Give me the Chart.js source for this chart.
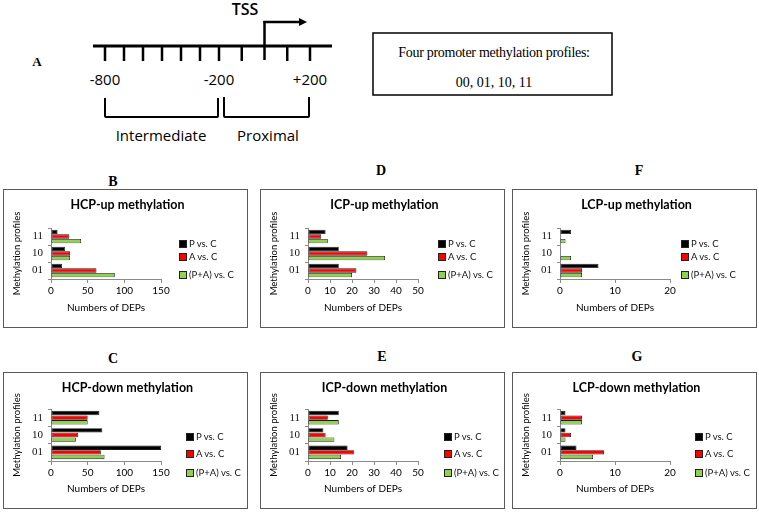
<!DOCTYPE html>
<html>
<head>
<meta charset="utf-8">
<script src="https://cdn.jsdelivr.net/npm/chart.js@4"></script>
<style>
  body { margin: 0; background: #fff; }
  #fig { position: relative; width: 759px; height: 512px; overflow: hidden; }
  .box { position: absolute; width: 245px; border: 1.3px solid #5a5a5a; box-sizing: border-box; }
  .box canvas { position: absolute; left: -1px; top: -1px; }
  .letter { position: absolute; font: bold 14px "Liberation Serif", serif; transform: translateX(-50%); }
  .legend { position: absolute; font: 9.5px Lato, sans-serif; color: #111; }
  .legend .row { position: absolute; white-space: nowrap; line-height: 12px; transform: translateY(-50%); }
  .legend .sw { display: inline-block; width: 6px; height: 6px; border: 1px solid #222; margin-right: 2px; vertical-align: -0.5px; }
  #diagram { position: absolute; left: 0; top: 0; }
</style>
</head>
<body>
<div id="fig">
  <svg id="diagram" width="759" height="170"></svg>

  <div class="letter" style="left:113px; top:174px;">B</div>
  <div class="letter" style="left:381px; top:163px;">D</div>
  <div class="letter" style="left:639px; top:163px;">F</div>
  <div class="letter" style="left:113px; top:351px;">C</div>
  <div class="letter" style="left:382px; top:349px;">E</div>
  <div class="letter" style="left:637px; top:349px;">G</div>

  <div class="box" style="left:3px; top:189px; height:139px;"><canvas id="hcpUp" width="245" height="139"></canvas><div class="legend" id="lgHcpUp" style="left:175px; top:0;"></div></div>
  <div class="box" style="left:260px; top:189px; height:139px;"><canvas id="icpUp" width="245" height="139"></canvas><div class="legend" id="lgIcpUp" style="left:177px; top:0;"></div></div>
  <div class="box" style="left:512px; top:189px; height:139px;"><canvas id="lcpUp" width="245" height="139"></canvas><div class="legend" id="lgLcpUp" style="left:168px; top:0;"></div></div>
  <div class="box" style="left:3px; top:372px; height:137px;"><canvas id="hcpDown" width="245" height="137"></canvas><div class="legend" id="lgHcpDown" style="left:182px; top:0;"></div></div>
  <div class="box" style="left:260px; top:372px; height:137px;"><canvas id="icpDown" width="245" height="137"></canvas><div class="legend" id="lgIcpDown" style="left:183px; top:0;"></div></div>
  <div class="box" style="left:512px; top:372px; height:137px;"><canvas id="lcpDown" width="245" height="137"></canvas><div class="legend" id="lgLcpDown" style="left:182px; top:0;"></div></div>
</div>

<script>
// methylation profile categories, top to bottom
const profiles = ["11", "10", "01"];
const seriesNames = ["P vs. C", "A vs. C", "(P+A) vs. C"];
const seriesColors = ["#000000", "#ff0000", "#92d050"];

// numbers of DEPs per profile (11, 10, 01)
const hcpUpP = [9, 19, 15];
const hcpUpA = [25, 26, 62];
const hcpUpPA = [41, 26, 87];

const icpUpP = [8, 14, 14];
const icpUpA = [6, 27, 22];
const icpUpPA = [9, 35, 20];

const lcpUpP = [2, 0, 7];
const lcpUpA = [0, 0, 4];
const lcpUpPA = [1, 2, 4];

const hcpDownP = [66, 70, 150];
const hcpDownA = [50, 37, 68];
const hcpDownPA = [50, 34, 73];

const icpDownP = [14, 7, 18];
const icpDownA = [9, 8, 21];
const icpDownPA = [14, 12, 15];

const lcpDownP = [1, 1, 3];
const lcpDownA = [4, 2, 8];
const lcpDownPA = [4, 1, 6];

// promoter schematic: bp positions of the ticks
const tickPositions = [-800, -700, -600, -500, -400, -300, -200, -100, 100, 200];
const tickLabels = ["-800", "-200", "+200"];

function bpToX(bp) {
  // intermediate region is drawn a little tighter than the proximal one
  if (bp <= -200) return 105 + (bp + 800) * 0.19;
  return 219 + (bp + 200) * 0.2275;
}

function drawDiagram() {
  const svg = document.getElementById("diagram");
  let s = "";
  s += `<line x1="93" y1="46" x2="332" y2="46" stroke="#000" stroke-width="3"/>`;
  tickPositions.forEach(bp => {
    const x = bpToX(bp);
    s += `<line x1="${x}" y1="46" x2="${x}" y2="61" stroke="#000" stroke-width="2.5"/>`;
  });
  const tss = bpToX(0);
  s += `<line x1="${tss}" y1="60" x2="${tss}" y2="21" stroke="#000" stroke-width="2.5"/>`;
  s += `<line x1="${tss - 1}" y1="22" x2="300" y2="22" stroke="#000" stroke-width="2.5"/>`;
  s += `<path d="M299 18 L307 22 L299 26 Z" fill="#000"/>`;
  s += `<text x="245" y="15" text-anchor="middle" font-family="Open Sans" font-weight="600" font-size="16">TSS</text>`;
  [-800, -200, 200].forEach((bp, i) => {
    s += `<text x="${bpToX(bp)}" y="85" text-anchor="middle" font-family="Open Sans" font-size="15">${tickLabels[i]}</text>`;
  });
  s += `<path d="M105 98 V116 Q105 117 106 117 H217 Q218 117 218 116 V98" fill="none" stroke="#000" stroke-width="2"/>`;
  s += `<path d="M224 97 V116 Q224 117 225 117 H308 Q309 117 309 116 V97" fill="none" stroke="#000" stroke-width="2"/>`;
  s += `<text x="161" y="141" text-anchor="middle" font-family="Open Sans" font-size="15">Intermediate</text>`;
  s += `<text x="268" y="141" text-anchor="middle" font-family="Open Sans" font-size="15">Proximal</text>`;
  s += `<text x="37" y="66" text-anchor="middle" font-family="Liberation Serif" font-weight="bold" font-size="13">A</text>`;
  s += `<rect x="373" y="33" width="239" height="62" fill="none" stroke="#000" stroke-width="1.5"/>`;
  s += `<text x="494" y="57" text-anchor="middle" font-family="Liberation Serif" font-size="14" letter-spacing="-0.3">Four promoter methylation profiles:</text>`;
  s += `<text x="494" y="87" text-anchor="middle" font-family="Liberation Serif" font-size="14">00, 01, 10, 11</text>`;
  svg.innerHTML = s;
}

function buildLegend(id, rowCenters) {
  const el = document.getElementById(id);
  el.innerHTML = seriesNames.map((name, i) =>
    `<div class="row" style="top:${rowCenters[i]}px"><span class="sw" style="background:${seriesColors[i]}"></span>${name}</div>`
  ).join("");
}

function makePanel(canvasId, title, pVals, aVals, paVals, xMax, xStep, h) {
  const plotTop = h > 138 ? 39 : 37;
  const plotBottom = h > 138 ? 90 : 89;
  const plotRight = 158;
  const axisColor = "#8a8a8a";
  const tickFont = { family: "Lato", size: 10 };

  return new Chart(document.getElementById(canvasId), {
    type: "bar",
    data: {
      labels: profiles,
      datasets: [pVals, aVals, paVals].map((vals, i) => ({
        label: seriesNames[i],
        data: vals,
        backgroundColor: seriesColors[i],
        borderColor: "#1a1a1a",
        borderWidth: c => (c.raw === 0 ? 0 : 0.8),
        borderSkipped: false,
        barPercentage: 0.95,
        categoryPercentage: 0.8
      }))
    },
    options: {
      indexAxis: "y",
      responsive: false,
      animation: false,
      devicePixelRatio: 1,
      layout: { padding: { left: 4, right: 0, top: 0, bottom: 0 } },
      plugins: {
        legend: { display: false },
        tooltip: { enabled: false },
        title: {
          display: true,
          text: title,
          color: "#000",
          font: { family: "Lato", size: 12.5, weight: "bold" },
          padding: { top: 8.5, bottom: plotTop - 8.5 - 15 }
        }
      },
      scales: {
        x: {
          min: 0,
          max: xMax,
          ticks: { stepSize: xStep, color: "#000", font: tickFont, padding: 2 },
          grid: { drawOnChartArea: false, tickLength: 4, color: axisColor },
          border: { color: axisColor, width: 1 },
          title: {
            display: true,
            text: "Numbers of DEPs",
            color: "#000",
            font: tickFont,
            padding: { top: 0, bottom: 14.5 }
          },
          afterFit: scale => { scale.height = h - plotBottom; }
        },
        y: {
          ticks: { color: "#111", font: { family: "Liberation Serif", size: 11 }, padding: 5 },
          grid: { drawOnChartArea: false, tickLength: 3, color: axisColor },
          border: { color: axisColor, width: 1 },
          title: {
            display: true,
            text: "Methylation profiles",
            color: "#000",
            font: { family: "Lato", size: 9.5 },
            padding: { top: 4, bottom: 0 }
          },
          afterFit: scale => { scale.width = 44; }
        },
        // empty right-hand axis that reserves the room where the legend sits
        spacer: {
          type: "linear",
          position: "right",
          display: true,
          ticks: { display: false },
          grid: { display: false },
          border: { display: false },
          afterFit: scale => { scale.width = 245 - plotRight; }
        }
      }
    }
  });
}

drawDiagram();

makePanel("hcpUp", "HCP-up methylation", hcpUpP, hcpUpA, hcpUpPA, 150, 50, 139);
makePanel("icpUp", "ICP-up methylation", icpUpP, icpUpA, icpUpPA, 50, 10, 139);
makePanel("lcpUp", "LCP-up methylation", lcpUpP, lcpUpA, lcpUpPA, 20, 10, 139);
makePanel("hcpDown", "HCP-down methylation", hcpDownP, hcpDownA, hcpDownPA, 150, 50, 137);
makePanel("icpDown", "ICP-down methylation", icpDownP, icpDownA, icpDownPA, 50, 10, 137);
makePanel("lcpDown", "LCP-down methylation", lcpDownP, lcpDownA, lcpDownPA, 20, 10, 137);

["lgHcpUp", "lgIcpUp", "lgLcpUp"].forEach(id => buildLegend(id, [54, 67, 85]));
["lgHcpDown", "lgIcpDown", "lgLcpDown"].forEach(id => buildLegend(id, [64, 81, 100]));
</script>
</body>
</html>
